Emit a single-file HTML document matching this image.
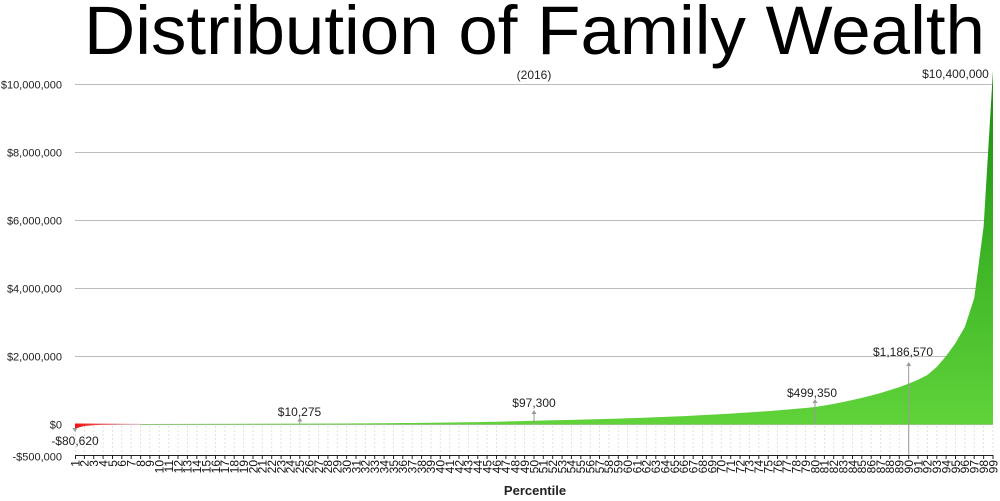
<!DOCTYPE html>
<html><head><meta charset="utf-8"><style>
html,body{margin:0;padding:0;background:#fff;}
svg{display:block;font-family:"Liberation Sans",Arial,sans-serif;}
</style></head><body>
<svg width="1000" height="501" viewBox="0 0 1000 501" xmlns="http://www.w3.org/2000/svg">
<defs>
<linearGradient id="gg" x1="0" y1="70" x2="0" y2="424" gradientUnits="userSpaceOnUse">
<stop offset="0" stop-color="#158a0a"/><stop offset="0.5" stop-color="#3cb325"/><stop offset="1" stop-color="#60d33a"/>
</linearGradient>
<linearGradient id="rg" x1="75" y1="0" x2="140" y2="0" gradientUnits="userSpaceOnUse">
<stop offset="0" stop-color="#ee1515"/><stop offset="0.5" stop-color="#f25a5a"/><stop offset="1" stop-color="#f8c8c8"/>
</linearGradient>
</defs>
<text x="84" y="54" font-size="69" fill="#000" textLength="901" lengthAdjust="spacingAndGlyphs">Distribution of Family Wealth</text>
<text x="534" y="79" font-size="12" fill="#222" text-anchor="middle">(2016)</text>
<g stroke="#bcbcbc" stroke-width="1">
<line x1="75" y1="84.5" x2="993" y2="84.5"/>
<line x1="75" y1="152.5" x2="993" y2="152.5"/>
<line x1="75" y1="220.5" x2="993" y2="220.5"/>
<line x1="75" y1="288.5" x2="993" y2="288.5"/>
<line x1="75" y1="356.5" x2="993" y2="356.5"/>
<line x1="75" y1="424.5" x2="993" y2="424.5"/>
</g>
<g font-size="11" fill="#222" text-anchor="end">
<text x="62" y="88.5">$10,000,000</text>
<text x="62" y="156.5">$8,000,000</text>
<text x="62" y="224.5">$6,000,000</text>
<text x="62" y="292.5">$4,000,000</text>
<text x="62" y="360.5">$2,000,000</text>
<text x="62" y="428.5">$0</text>
<text x="62" y="460.5">-$500,000</text>
</g>
<path fill="none" stroke="#e2e2e2" stroke-width="1" stroke-dasharray="2,2" d="M75.5 426V455M84.4 426V455M93.7 426V455M103.1 426V455M112.5 426V455M121.8 426V455M131.2 426V455M140.6 426V455M149.9 426V455M159.3 426V455M168.7 426V455M178 426V455M187.4 426V455M196.8 426V455M206.1 426V455M215.5 426V455M224.9 426V455M234.2 426V455M243.6 426V455M253 426V455M262.3 426V455M271.7 426V455M281.1 426V455M290.4 426V455M299.8 426V455M309.2 426V455M318.5 426V455M327.9 426V455M337.3 426V455M346.6 426V455M356 426V455M365.4 426V455M374.7 426V455M384.1 426V455M393.5 426V455M402.8 426V455M412.2 426V455M421.6 426V455M430.9 426V455M440.3 426V455M449.7 426V455M459 426V455M468.4 426V455M477.8 426V455M487.1 426V455M496.5 426V455M505.9 426V455M515.2 426V455M524.6 426V455M534 426V455M543.3 426V455M552.7 426V455M562.1 426V455M571.4 426V455M580.8 426V455M590.2 426V455M599.5 426V455M608.9 426V455M618.3 426V455M627.6 426V455M637 426V455M646.4 426V455M655.8 426V455M665.1 426V455M674.5 426V455M683.9 426V455M693.2 426V455M702.6 426V455M712 426V455M721.3 426V455M730.7 426V455M740.1 426V455M749.4 426V455M758.8 426V455M768.2 426V455M777.5 426V455M786.9 426V455M796.3 426V455M805.6 426V455M815 426V455M824.4 426V455M833.7 426V455M843.1 426V455M852.5 426V455M861.8 426V455M871.2 426V455M880.6 426V455M889.9 426V455M899.3 426V455M908.7 426V455M918 426V455M927.4 426V455M936.8 426V455M946.1 426V455M955.5 426V455M964.9 426V455M974.2 426V455M983.6 426V455M993 426V455"/>
<path fill="url(#rg)" d="M75 423.5L75 428.5L84.4 426L93.7 425.2L103.1 424.8L112.5 424.6L121.8 424.5L131.2 424.5L140.6 424.5L140.6 423.8L75 423.5Z"/>
<path fill="url(#gg)" d="M140.6 424.5L140.6 424L253 423.7L299.8 423.65L346.6 423.45L356 423.4L365.4 423.34L374.7 423.28L384.1 423.22L393.5 423.14L402.8 423.06L412.2 422.97L421.6 422.88L430.9 422.77L440.3 422.66L449.7 422.53L459 422.39L468.4 422.24L477.8 422.07L487.1 421.89L496.5 421.69L505.9 421.48L515.2 421.24L524.6 420.98L534 420.69L543.3 420.51L552.7 420.31L562.1 420.1L571.4 419.89L580.8 419.66L590.2 419.41L599.5 419.16L608.9 418.88L618.3 418.6L627.6 418.29L637 417.98L646.4 417.64L655.8 417.28L665.1 416.91L674.5 416.51L683.9 416.09L693.2 415.65L702.6 415.18L712 414.68L721.3 414.16L730.7 413.61L740.1 413.03L749.4 412.41L758.8 411.77L768.2 411.08L777.5 410.36L786.9 409.59L796.3 408.79L805.6 407.94L815 407.02L824.4 405.49L833.7 403.83L843.1 402.01L852.5 400.03L861.8 397.88L871.2 395.52L880.6 392.96L889.9 390.17L899.3 387.12L908.7 383.66L918 379.8L927.4 375.04L936.8 366.88L946.1 356L955.5 343.08L964.9 326.76L974.2 298.2L983.6 226.8L993 70.4L993 424.5Z"/>
<g stroke="#9a9a9a" stroke-width="1" fill="#9a9a9a">
<line x1="299.8" y1="424" x2="299.8" y2="420"/><path stroke="none" d="M297.3 421.5L302.3 421.5L299.8 417.5Z"/>
<line x1="534" y1="424" x2="534" y2="413"/><path stroke="none" d="M531.5 414L536.5 414L534 410Z"/>
<line x1="815" y1="424" x2="815" y2="402"/><path stroke="none" d="M812.5 403L817.5 403L815 399Z"/>
<line x1="908.7" y1="455" x2="908.7" y2="365"/><path stroke="none" d="M906.2 366L911.2 366L908.7 362Z"/>
<path stroke="none" d="M72.5 428L77.5 428L75 432Z"/>
</g>
<g font-size="12" fill="#222" text-anchor="middle">
<text x="299.5" y="416">$10,275</text>
<text x="534" y="407">$97,300</text>
<text x="812" y="397">$499,350</text>
<text x="903" y="356">$1,186,570</text>
<text x="955.5" y="78">$10,400,000</text>
<text x="75" y="445">-$80,620</text>
</g>
<line x1="75" y1="455.5" x2="993.5" y2="455.5" stroke="#222" stroke-width="1"/>
<path fill="none" stroke="#222" stroke-width="1" d="M75.5 455V459M84.4 455V459M93.7 455V459M103.1 455V459M112.5 455V459M121.8 455V459M131.2 455V459M140.6 455V459M149.9 455V459M159.3 455V459M168.7 455V459M178 455V459M187.4 455V459M196.8 455V459M206.1 455V459M215.5 455V459M224.9 455V459M234.2 455V459M243.6 455V459M253 455V459M262.3 455V459M271.7 455V459M281.1 455V459M290.4 455V459M299.8 455V459M309.2 455V459M318.5 455V459M327.9 455V459M337.3 455V459M346.6 455V459M356 455V459M365.4 455V459M374.7 455V459M384.1 455V459M393.5 455V459M402.8 455V459M412.2 455V459M421.6 455V459M430.9 455V459M440.3 455V459M449.7 455V459M459 455V459M468.4 455V459M477.8 455V459M487.1 455V459M496.5 455V459M505.9 455V459M515.2 455V459M524.6 455V459M534 455V459M543.3 455V459M552.7 455V459M562.1 455V459M571.4 455V459M580.8 455V459M590.2 455V459M599.5 455V459M608.9 455V459M618.3 455V459M627.6 455V459M637 455V459M646.4 455V459M655.8 455V459M665.1 455V459M674.5 455V459M683.9 455V459M693.2 455V459M702.6 455V459M712 455V459M721.3 455V459M730.7 455V459M740.1 455V459M749.4 455V459M758.8 455V459M768.2 455V459M777.5 455V459M786.9 455V459M796.3 455V459M805.6 455V459M815 455V459M824.4 455V459M833.7 455V459M843.1 455V459M852.5 455V459M861.8 455V459M871.2 455V459M880.6 455V459M889.9 455V459M899.3 455V459M908.7 455V459M918 455V459M927.4 455V459M936.8 455V459M946.1 455V459M955.5 455V459M964.9 455V459M974.2 455V459M983.6 455V459M993 455V459"/>
<g transform="rotate(-90)" font-size="12" fill="#111" text-anchor="end">
<text x="-460" y="79.3">1</text><text x="-460" y="88.7">2</text><text x="-460" y="98">3</text><text x="-460" y="107.4">4</text><text x="-460" y="116.8">5</text><text x="-460" y="126.1">6</text><text x="-460" y="135.5">7</text><text x="-460" y="144.9">8</text><text x="-460" y="154.2">9</text><text x="-460" y="163.6">10</text>
<text x="-460" y="173">11</text><text x="-460" y="182.3">12</text><text x="-460" y="191.7">13</text><text x="-460" y="201.1">14</text><text x="-460" y="210.4">15</text><text x="-460" y="219.8">16</text><text x="-460" y="229.2">17</text><text x="-460" y="238.5">18</text><text x="-460" y="247.9">19</text><text x="-460" y="257.3">20</text>
<text x="-460" y="266.6">21</text><text x="-460" y="276">22</text><text x="-460" y="285.4">23</text><text x="-460" y="294.7">24</text><text x="-460" y="304.1">25</text><text x="-460" y="313.5">26</text><text x="-460" y="322.8">27</text><text x="-460" y="332.2">28</text><text x="-460" y="341.6">29</text><text x="-460" y="350.9">30</text>
<text x="-460" y="360.3">31</text><text x="-460" y="369.7">32</text><text x="-460" y="379">33</text><text x="-460" y="388.4">34</text><text x="-460" y="397.8">35</text><text x="-460" y="407.1">36</text><text x="-460" y="416.5">37</text><text x="-460" y="425.9">38</text><text x="-460" y="435.2">39</text><text x="-460" y="444.6">40</text>
<text x="-460" y="454">41</text><text x="-460" y="463.3">42</text><text x="-460" y="472.7">43</text><text x="-460" y="482.1">44</text><text x="-460" y="491.4">45</text><text x="-460" y="500.8">46</text><text x="-460" y="510.2">47</text><text x="-460" y="519.5">48</text><text x="-460" y="528.9">49</text><text x="-460" y="538.3">50</text>
<text x="-460" y="547.6">51</text><text x="-460" y="557">52</text><text x="-460" y="566.4">53</text><text x="-460" y="575.7">54</text><text x="-460" y="585.1">55</text><text x="-460" y="594.5">56</text><text x="-460" y="603.8">57</text><text x="-460" y="613.2">58</text><text x="-460" y="622.6">59</text><text x="-460" y="631.9">60</text>
<text x="-460" y="641.3">61</text><text x="-460" y="650.7">62</text><text x="-460" y="660.1">63</text><text x="-460" y="669.4">64</text><text x="-460" y="678.8">65</text><text x="-460" y="688.2">66</text><text x="-460" y="697.5">67</text><text x="-460" y="706.9">68</text><text x="-460" y="716.3">69</text><text x="-460" y="725.6">70</text>
<text x="-460" y="735">71</text><text x="-460" y="744.4">72</text><text x="-460" y="753.7">73</text><text x="-460" y="763.1">74</text><text x="-460" y="772.5">75</text><text x="-460" y="781.8">76</text><text x="-460" y="791.2">77</text><text x="-460" y="800.6">78</text><text x="-460" y="809.9">79</text><text x="-460" y="819.3">80</text>
<text x="-460" y="828.7">81</text><text x="-460" y="838">82</text><text x="-460" y="847.4">83</text><text x="-460" y="856.8">84</text><text x="-460" y="866.1">85</text><text x="-460" y="875.5">86</text><text x="-460" y="884.9">87</text><text x="-460" y="894.2">88</text><text x="-460" y="903.6">89</text><text x="-460" y="913">90</text>
<text x="-460" y="922.3">91</text><text x="-460" y="931.7">92</text><text x="-460" y="941.1">93</text><text x="-460" y="950.4">94</text><text x="-460" y="959.8">95</text><text x="-460" y="969.2">96</text><text x="-460" y="978.5">97</text><text x="-460" y="987.9">98</text><text x="-460" y="997.3">99</text>
</g>
<text x="535" y="495" font-size="13" font-weight="bold" fill="#222" text-anchor="middle">Percentile</text>
</svg>
</body></html>
